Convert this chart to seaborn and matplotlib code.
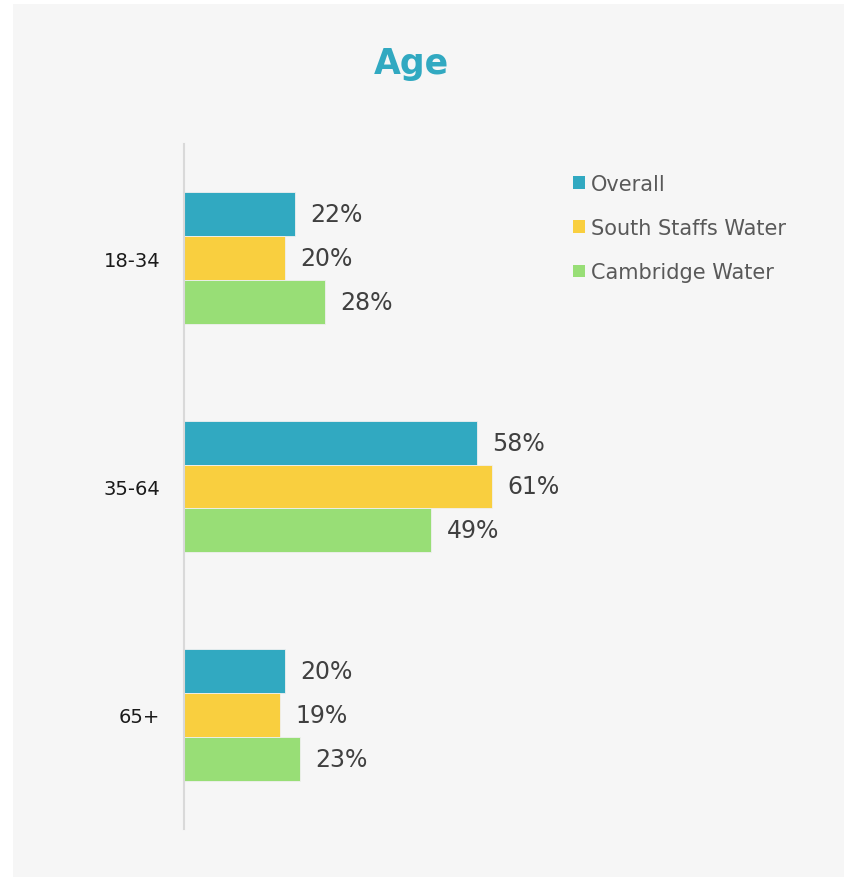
import matplotlib
matplotlib.use("Agg")
import matplotlib.pyplot as plt
from matplotlib.patches import Rectangle, Patch
import seaborn as sns
import pandas as pd

# ---- data ----
categories = ["18-34", "35-64", "65+"]
series_names = ["Overall", "South Staffs Water", "Cambridge Water"]
overall = [22, 58, 20]
south_staffs = [20, 61, 19]
cambridge = [28, 49, 23]
title = "Age"

colors = ["#31A9C1", "#F9CF3F", "#98DE76"]
panel_color = "#F6F6F6"

rows = []
for name, vals in zip(series_names, [overall, south_staffs, cambridge]):
    for cat, v in zip(categories, vals):
        rows.append({"Age": cat, "Series": name, "Value": v})
df = pd.DataFrame(rows)

sns.set_theme(style="white")
plt.rcParams["font.family"] = ["DejaVu Sans"]

W, H = 844, 878
fig = plt.figure(figsize=(W / 100, H / 100), dpi=100, facecolor="white")
fig.patches.append(Rectangle((13 / W, 0), 1 - 13 / W, 1 - 5 / H,
                             transform=fig.transFigure, facecolor=panel_color,
                             edgecolor="none", zorder=-10))

ax_left, ax_right = 184, 689
ax_top, ax_bottom = 145, 830
ax = fig.add_axes([ax_left / W, 1 - ax_bottom / H,
                   (ax_right - ax_left) / W, (ax_bottom - ax_top) / H])
ax.set_facecolor(panel_color)

sns.barplot(data=df, y="Age", x="Value", hue="Series", order=categories,
            hue_order=series_names, palette=colors, width=0.576,
            orient="h", ax=ax, legend=False, saturation=1, gap=0,
            edgecolor="#F0F0F0", linewidth=0.6)

for cont in ax.containers:
    ax.bar_label(cont, labels=[f"{v:.0f}%" for v in cont.datavalues],
                 padding=11, fontsize=17, color="#404040")

ax.set_xlim(0, 100)
ax.set_ylim(2.5, -0.5)
ax.set_xlabel("")
ax.set_ylabel("")
ax.set_xticks([])
ax.tick_params(axis="y", length=0, pad=17, labelsize=14, labelcolor="#1a1a1a")
for side in ["top", "right", "bottom"]:
    ax.spines[side].set_visible(False)
ax.spines["left"].set_color("#D9D9D9")
ax.spines["left"].set_linewidth(1.5)

fig.text(411 / W, 1 - 64 / H, title, ha="center", va="center",
         fontsize=25, fontweight="bold", color="#31A9C1")

handles = [Patch(facecolor=c, edgecolor="none") for c in colors]
leg = fig.legend(handles, series_names, loc="upper left",
                 bbox_to_anchor=(573 / W, 1 - 175 / H), frameon=False,
                 fontsize=15, handlelength=0.58, handleheight=0.58,
                 handletextpad=0.3, labelspacing=1.16, borderaxespad=0,
                 borderpad=0)
for t in leg.get_texts():
    t.set_color("#595959")

fig.savefig("out.png", dpi=100, facecolor="white")
